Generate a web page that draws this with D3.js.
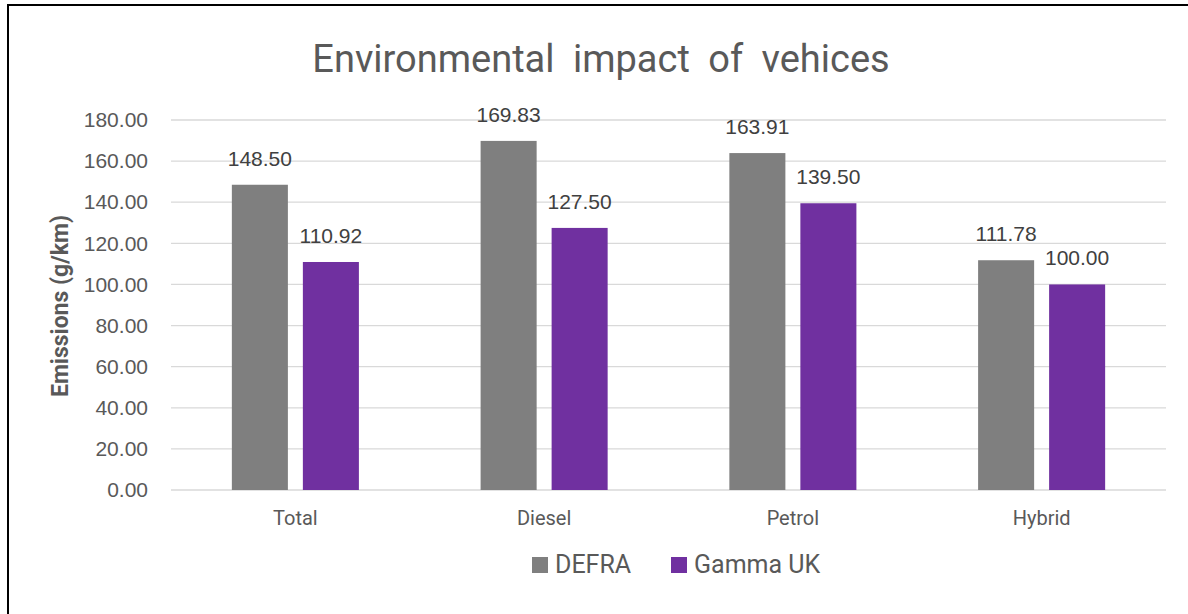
<!DOCTYPE html>
<html>
<head>
<meta charset="utf-8">
<script src="https://cdn.jsdelivr.net/npm/d3@7"></script>
<style>
  body { margin: 0; background: #fff; }
  svg { display: block; }
</style>
</head>
<body>
<svg class="chart"></svg>
<script>
var categories = ['Total', 'Diesel', 'Petrol', 'Hybrid'];
var seriesNames = ['DEFRA', 'Gamma UK'];
var defra = [148.50, 169.83, 163.91, 111.78];
var gammaUK = [110.92, 127.50, 139.50, 100.00];
var yTicks = [0, 20, 40, 60, 80, 100, 120, 140, 160, 180];
var colors = ['#7f7f7f', '#7030a0'];

var width = 1188;
var height = 614;
var plotLeft = 171, plotRight = 1166, plotTop = 120, plotBottom = 490;

var svg = d3.select('.chart')
  .attr('width', width)
  .attr('height', height)
  .style('font-family', 'Roboto, "Liberation Sans", sans-serif');

// frame edges
svg.append('line').attr('x1', 8).attr('x2', width).attr('y1', 5).attr('y2', 5)
  .attr('stroke', '#000').attr('stroke-width', 2);
svg.append('line').attr('x1', 8).attr('x2', 8).attr('y1', 4).attr('y2', height)
  .attr('stroke', '#000').attr('stroke-width', 2);

var y = d3.scaleLinear().domain([0, 180]).range([plotBottom, plotTop]);
var x0 = d3.scaleBand().domain(categories).range([plotLeft, plotRight]);
var x1 = d3.scaleBand().domain(seriesNames).range([0, x0.bandwidth()])
  .paddingInner(0.211).paddingOuter(0.857);

// gridlines
svg.append('g')
  .selectAll('line')
  .data(yTicks)
  .enter()
  .append('line')
  .attr('x1', plotLeft).attr('x2', plotRight)
  .attr('y1', function(d) { return y(d); })
  .attr('y2', function(d) { return y(d); })
  .attr('stroke', '#d9d9d9')
  .attr('stroke-width', 1.3);

// y axis labels
var yAxis = d3.axisLeft(y).tickValues(yTicks).tickSize(0).tickPadding(23)
  .tickFormat(d3.format('.2f'));
svg.append('g')
  .attr('transform', 'translate(' + plotLeft + ',0)')
  .call(yAxis)
  .call(function(g) { g.select('.domain').remove(); })
  .selectAll('text')
  .style('font-size', '21px')
  .style('font-family', '"Liberation Sans", Arial, sans-serif')
  .attr('fill', '#595959');

// x axis labels
var xAxis = d3.axisBottom(x0).tickSize(0).tickPadding(21);
svg.append('g')
  .attr('transform', 'translate(0,' + plotBottom + ')')
  .call(xAxis)
  .call(function(g) { g.select('.domain').remove(); })
  .selectAll('text')
  .style('font-size', '20px')
  .style('font-family', 'Roboto, sans-serif')
  .attr('fill', '#595959');

var rows = categories.map(function(c, i) {
  return [{ cat: c, s: seriesNames[0], v: defra[i] }, { cat: c, s: seriesNames[1], v: gammaUK[i] }];
});

var group = svg.selectAll('g.cat')
  .data(rows)
  .enter()
  .append('g')
  .attr('class', 'cat')
  .attr('transform', function(d) { return 'translate(' + x0(d[0].cat) + ',0)'; });

group.selectAll('rect')
  .data(function(d) { return d; })
  .enter()
  .append('rect')
  .attr('x', function(d) { return x1(d.s); })
  .attr('width', x1.bandwidth())
  .attr('y', function(d) { return y(d.v); })
  .attr('height', function(d) { return plotBottom - y(d.v); })
  .attr('fill', function(d, i) { return colors[i]; });

group.selectAll('text')
  .data(function(d) { return d; })
  .enter()
  .append('text')
  .attr('x', function(d) { return x1(d.s) + x1.bandwidth() / 2; })
  .attr('y', function(d) { return y(d.v) - 19; })
  .attr('text-anchor', 'middle')
  .style('font-size', '21px')
  .style('font-family', '"Liberation Sans", Arial, sans-serif')
  .attr('fill', '#404040')
  .text(function(d) { return d3.format('.2f')(d.v); });

// title
svg.append('text')
  .attr('x', 601).attr('y', 72)
  .attr('text-anchor', 'middle')
  .style('font-size', '38px')
  .style('word-spacing', '9px')
  .attr('fill', '#595959')
  .text('Environmental impact of vehices');

// y axis title
svg.append('text')
  .attr('transform', 'translate(68,' + 306 + ') rotate(-90)')
  .attr('text-anchor', 'middle')
  .style('font-size', '23px')
  .style('font-weight', 'bold')
  .attr('fill', '#595959')
  .text('Emissions (g/km)');

// legend
var legendX = [532, 671];
var legend = svg.selectAll('g.legend')
  .data(seriesNames)
  .enter()
  .append('g')
  .attr('class', 'legend')
  .attr('transform', function(d, i) { return 'translate(' + legendX[i] + ',557)'; });
legend.append('rect').attr('width', 16).attr('height', 16)
  .attr('fill', function(d, i) { return colors[i]; });
legend.append('text').attr('x', 23).attr('y', 16)
  .style('font-size', '25px')
  .attr('fill', '#595959')
  .text(function(d) { return d; });
</script>
</body>
</html>
